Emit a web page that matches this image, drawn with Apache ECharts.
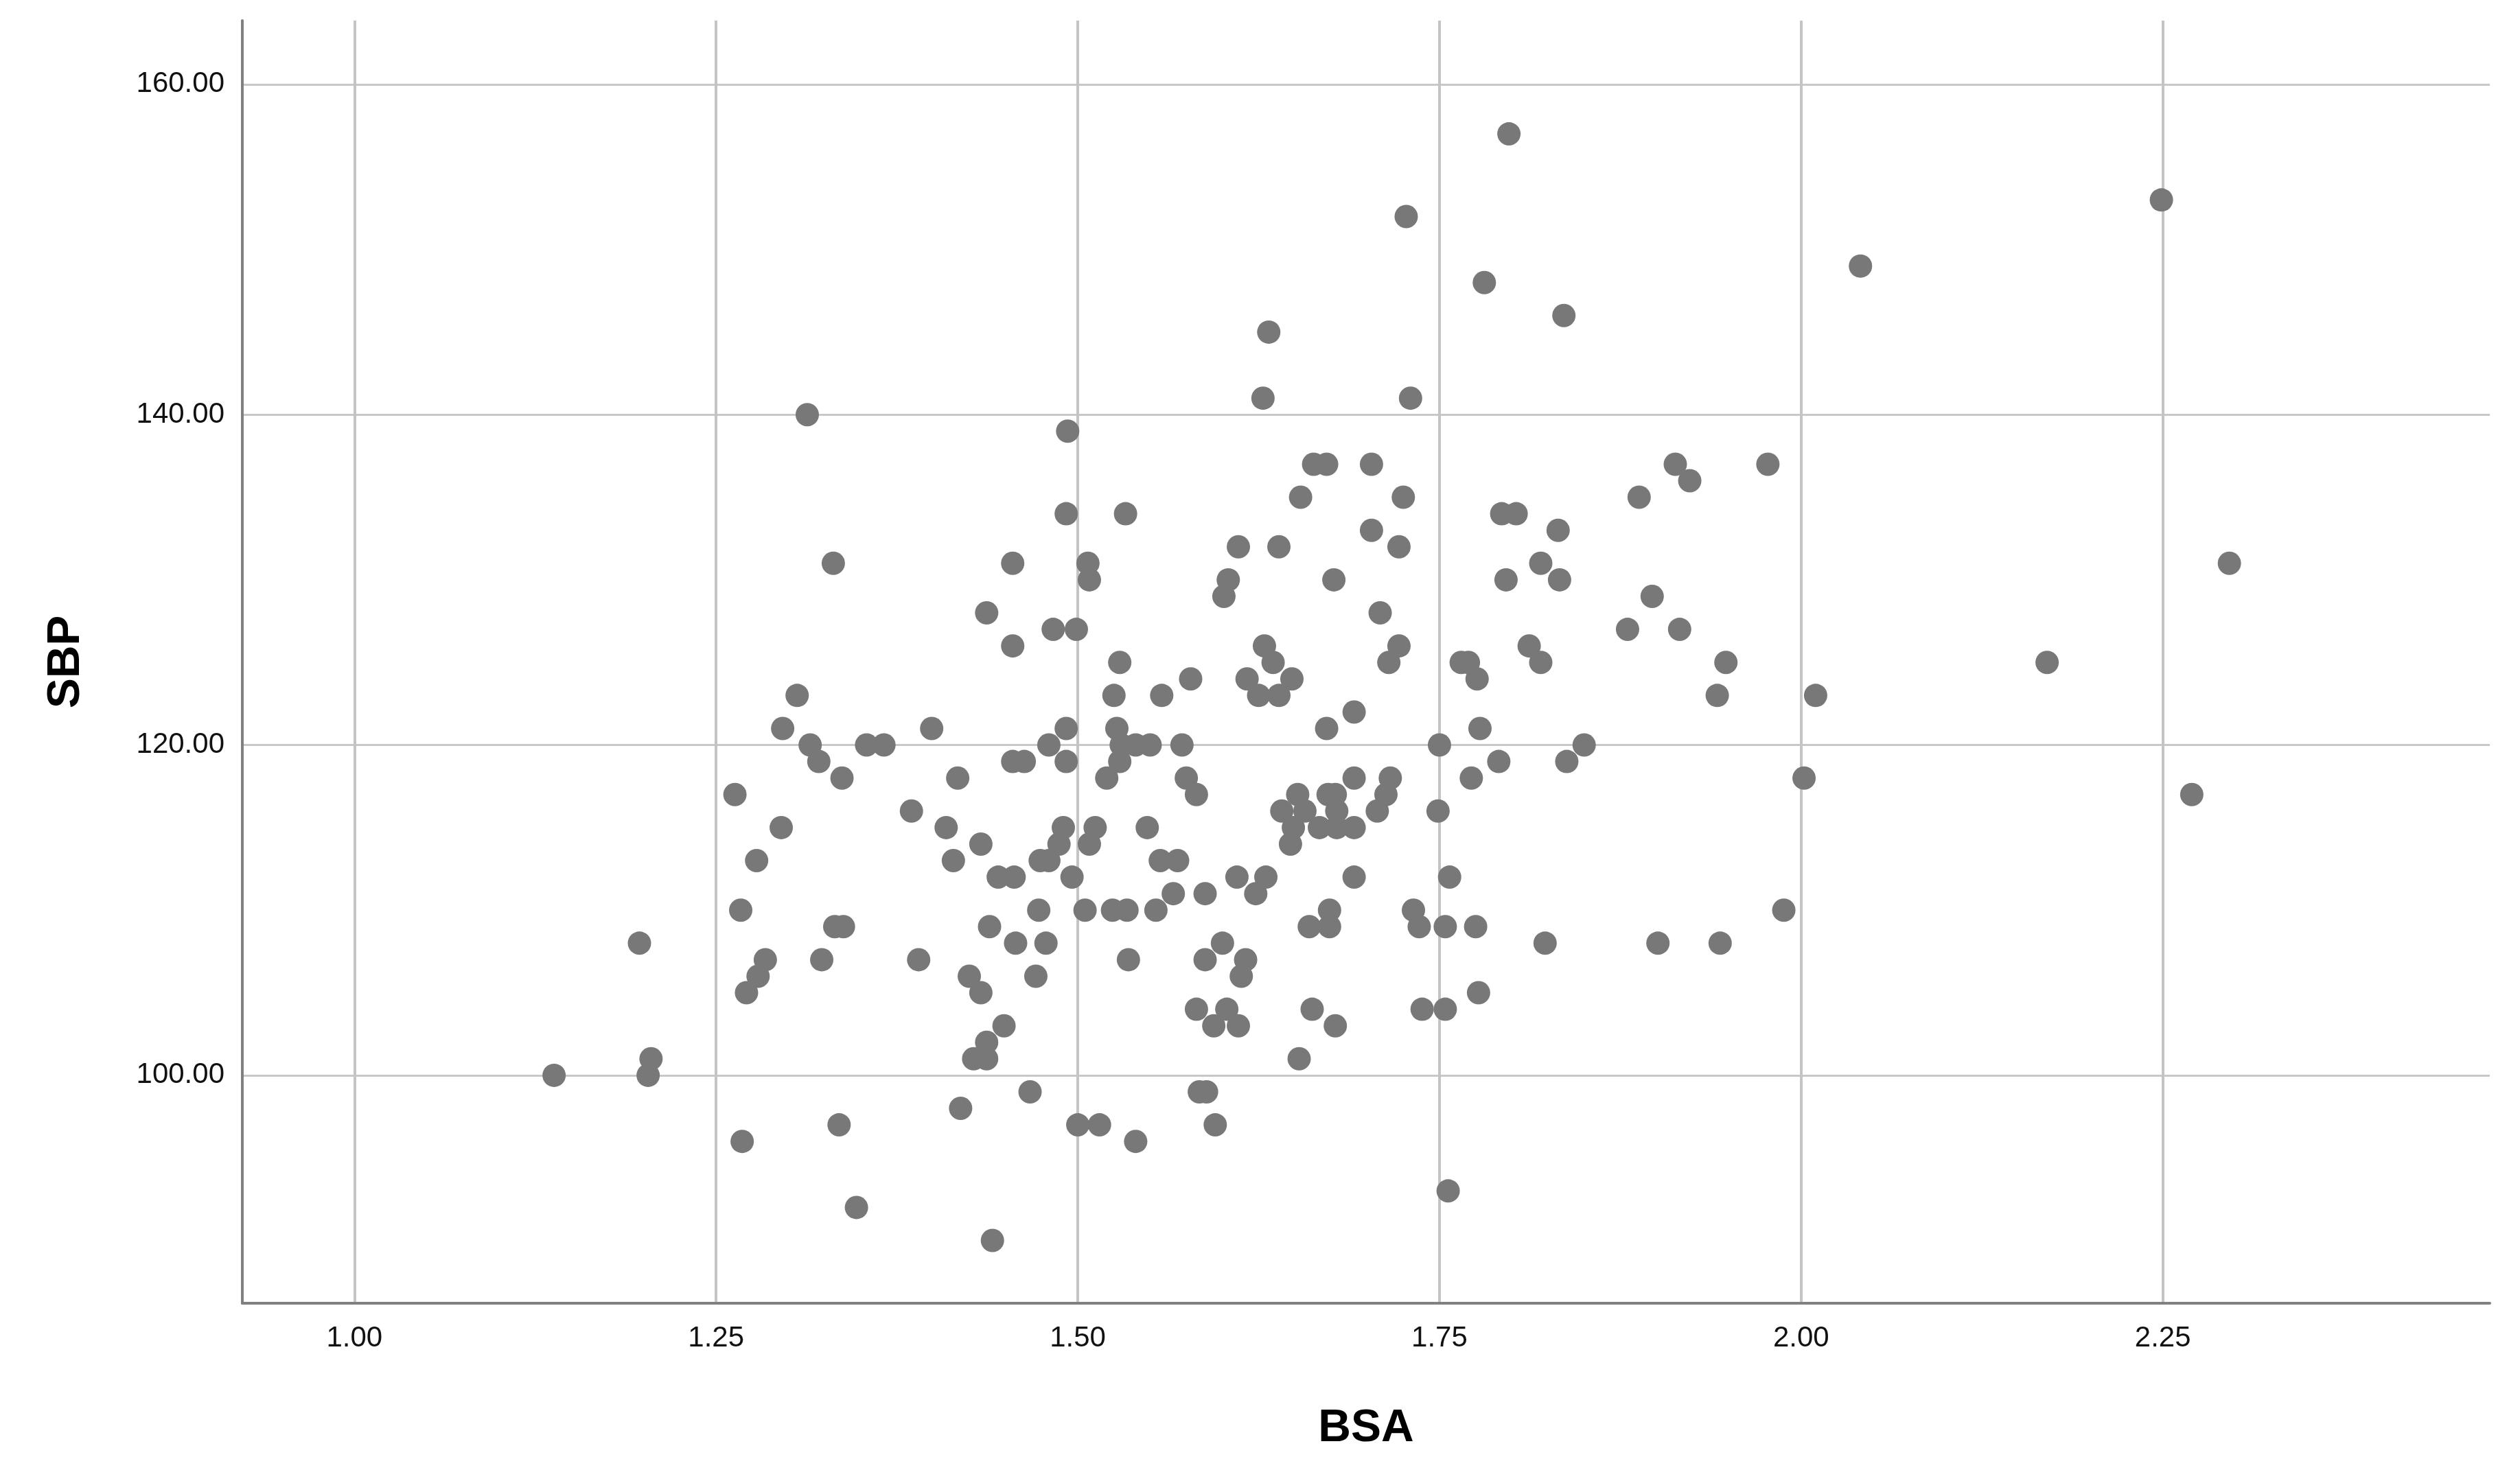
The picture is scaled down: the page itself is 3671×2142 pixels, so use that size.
<!DOCTYPE html>
<html>
<head>
<meta charset="utf-8">
<script src="https://cdn.jsdelivr.net/npm/echarts@6/dist/echarts.min.js"></script>
<style>
html,body{margin:0;padding:0;background:#fff;}
#chart{width:3671px;height:2142px;}
</style>
</head>
<body>
<div id="chart"></div>
<script>
const xName = 'BSA';
const yName = 'SBP';
const xTicks = [1.00, 1.25, 1.50, 1.75, 2.00, 2.25];
const yTicks = [100, 120, 140, 160];

const bsa = [
1.138,1.197,1.205,1.203,1.263,1.267,1.268,1.271,1.278,1.279,1.284,1.296,1.295,1.306,1.313,1.315,1.321,1.323,1.331,1.332,1.338,1.335,1.337,1.347,1.354,1.366,1.385,1.390,1.399,1.409,1.417,1.414,1.419,1.425,1.433,1.433,1.437,1.428,1.437,1.437,1.441,1.439,
1.455,1.455,1.445,1.456,1.449,1.457,1.455,1.463,1.467,1.471,1.473,1.474,1.480,1.478,1.480,1.483,1.487,1.490,1.492,1.492,1.492,1.493,1.496,1.499,
1.500,1.515,1.505,1.507,1.508,1.512,1.508,1.520,1.524,1.534,1.525,1.527,1.529,1.529,1.530,1.540,1.550,1.533,1.535,1.540,1.548,1.554,
1.557,1.569,1.558,1.566,1.572,1.575,1.578,1.582,1.582,1.588,1.588,1.584,1.589,1.594,1.595,1.600,1.601,1.604,1.603,
1.611,1.610,1.611,1.616,1.613,1.617,1.623,1.625,1.628,1.629,1.630,1.632,1.635,1.639,1.639,1.641,1.647,1.649,1.648,1.652,1.653,1.654,1.657,
1.660,1.674,1.674,1.662,1.663,1.672,1.672,1.677,1.678,1.673,1.678,1.679,1.667,1.679,1.691,1.691,1.691,1.691,
1.703,1.703,1.709,1.707,1.713,1.716,1.715,1.722,1.722,1.725,1.727,1.730,1.732,1.736,1.738,1.750,1.749,1.754,1.757,1.754,1.756,1.775,1.777,1.772,1.776,1.778,1.765,1.770,1.781,
1.798,1.836,1.793,1.803,1.832,1.820,1.796,1.833,1.812,1.820,1.791,1.838,1.850,1.823,
1.880,1.888,1.897,1.901,1.913,1.916,1.923,1.942,1.948,1.944,1.977,1.988,2.002,2.010,2.041,2.170,2.249,2.270,2.296
];
const sbp = [
100,108,101,100,117,110,96,105,113,106,107,121,115,123,140,120,119,107,131,109,109,97,118,92,120,120,116,107,121,115,118,113,98,106,114,105,128,101,101,102,90,109,
131,126,112,112,103,108,119,119,99,106,110,113,113,108,120,127,114,115,119,121,134,139,112,127,
97,97,110,131,130,115,114,118,110,110,123,121,125,119,120,120,120,134,107,96,115,110,
113,113,123,111,120,118,124,117,104,111,107,99,99,103,97,108,129,130,104,
132,112,103,107,106,124,111,123,141,126,112,145,125,132,123,116,114,115,124,117,101,135,116,
109,109,110,104,137,137,121,130,103,117,117,116,115,115,115,118,122,112,
133,137,128,116,117,118,125,126,132,135,152,141,110,109,104,120,116,109,112,104,93,109,105,118,124,121,125,125,148,
157,146,134,134,133,131,130,130,126,125,119,119,120,108,
127,135,129,108,137,127,136,123,125,108,137,110,118,123,149,125,153,117,131
];

const points = bsa.map((v, i) => [v, sbp[i]]);
const fmt = v => Number(v).toFixed(2);
const font = 'Liberation Sans, Arial, sans-serif';

const chart = echarts.init(document.getElementById('chart'), null, {renderer: 'canvas'});
chart.setOption({
  animation: false,
  backgroundColor: '#ffffff',
  grid: {left: 353, right: 44, top: 30, bottom: 243, containLabel: false},
  xAxis: {
    type: 'value',
    min: 0.9225, max: 2.476,
    name: xName,
    nameLocation: 'middle',
    nameGap: 150,
    nameTextStyle: {fontFamily: font, fontWeight: 'bold', fontSize: 66, color: '#000'},
    axisLine: {show: true, onZero: false, lineStyle: {color: '#808080', width: 4}},
    axisTick: {show: false, customValues: xTicks},
    axisLabel: {
      show: true, margin: 30, fontFamily: font, fontSize: 42, color: '#111',
      customValues: xTicks,
      formatter: fmt
    },
    splitLine: {show: true, lineStyle: {color: '#c4c4c4', width: 4}}
  },
  yAxis: {
    type: 'value',
    min: 86.2, max: 163.86,
    name: yName,
    nameLocation: 'middle',
    nameGap: 223,
    nameRotate: 90,
    nameTextStyle: {fontFamily: font, fontWeight: 'bold', fontSize: 66, color: '#000'},
    axisLine: {show: true, onZero: false, lineStyle: {color: '#808080', width: 4}},
    axisTick: {show: false, customValues: yTicks},
    axisLabel: {
      show: true, margin: 26, fontFamily: font, fontSize: 42, color: '#111',
      customValues: yTicks,
      formatter: fmt
    },
    splitLine: {show: true, lineStyle: {color: '#c8c8c8', width: 3}}
  },
  series: [{
    type: 'scatter',
    data: points,
    symbol: 'circle',
    symbolSize: 34,
    itemStyle: {color: '#787878', opacity: 1},
    emphasis: {disabled: true}
  }]
});
</script>
</body>
</html>
